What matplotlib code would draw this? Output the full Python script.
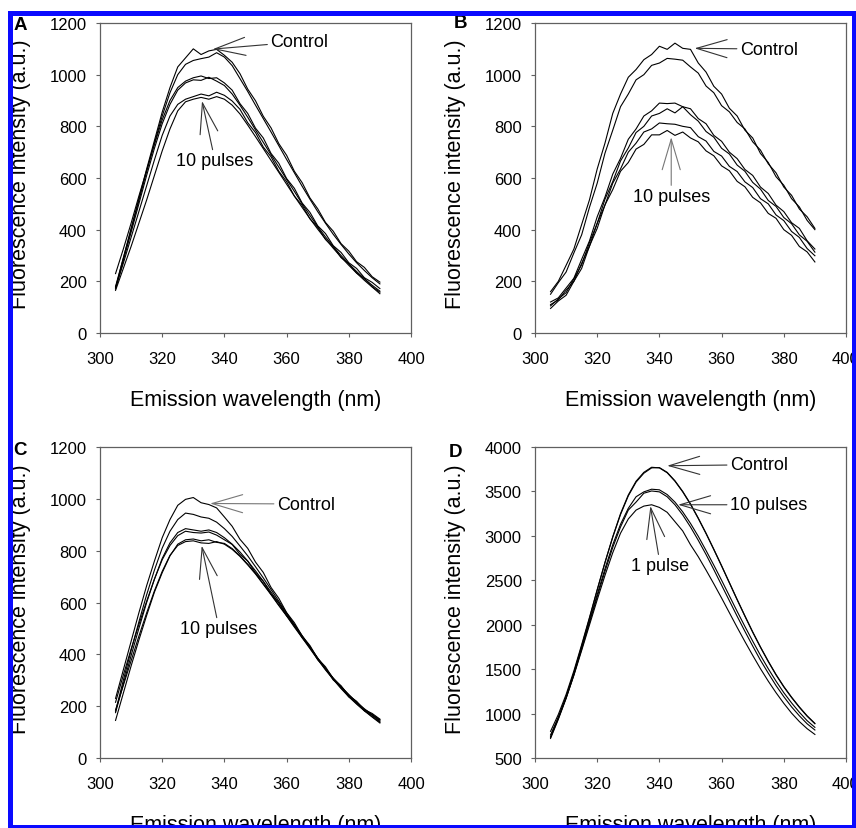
import matplotlib
matplotlib.use('Agg')
import matplotlib.pyplot as plt
from matplotlib.patches import Rectangle

plt.rcParams['font.family'] = ['Liberation Sans', 'DejaVu Sans']

# emission wavelength grid (nm), shared by all spectra
wl = [305, 307.5, 310, 312.5, 315,
      317.5, 320, 322.5, 325, 327.5,
      330, 332.5, 335, 337.5, 340,
      342.5, 345, 347.5, 350, 352.5,
      355, 357.5, 360, 362.5, 365,
      367.5, 370, 372.5, 375, 377.5,
      380, 382.5, 385, 387.5, 390]

# panel A
a_ctrl1 = [175, 290, 405, 520, 635, 745, 855, 950, 1030, 1065,
           1100, 1078, 1092, 1098, 1075, 1048, 1004, 944, 899, 839,
           794, 733, 688, 626, 582, 523, 481, 428, 394, 346,
           317, 276, 254, 218, 197]
a_ctrl2 = [180, 290, 400, 512, 625, 735, 840, 930, 1000, 1040,
           1055, 1062, 1068, 1085, 1068, 1035, 985, 935, 882, 830,
           778, 725, 672, 620, 568, 518, 470, 425, 382, 343,
           306, 272, 242, 214, 190]
a_mid1 = [230, 325, 425, 530, 630, 730, 825, 900, 950, 975,
          988, 995, 985, 988, 968, 940, 888, 850, 793, 755,
          695, 657, 598, 560, 503, 467, 415, 385, 338, 312,
          272, 250, 214, 196, 172]
a_mid2 = [170, 280, 390, 500, 610, 715, 810, 885, 940, 968,
          980, 978, 990, 975, 958, 925, 882, 835, 786, 738,
          690, 642, 595, 548, 500, 455, 412, 372, 335, 300,
          268, 238, 210, 185, 162]
a_low1 = [175, 270, 370, 470, 570, 670, 765, 840, 885, 905,
          915, 925, 918, 932, 920, 898, 866, 814, 776, 720,
          682, 626, 586, 530, 494, 442, 409, 362, 334, 292,
          268, 232, 211, 179, 158]
a_low2 = [165, 250, 335, 425, 515, 610, 705, 790, 860, 895,
          905, 912, 905, 915, 905, 882, 848, 805, 760, 714,
          668, 622, 576, 530, 486, 443, 402, 364, 328, 294,
          262, 232, 204, 178, 152]

# panel B
b_ctrl1 = [160, 200, 262, 325, 420, 515, 635, 735, 850, 925,
           990, 1020, 1058, 1078, 1110, 1098, 1122, 1102, 1098, 1045,
           1010, 955, 925, 870, 840, 785, 755, 695, 660, 605,
           572, 520, 488, 436, 400]
b_ctrl2 = [150, 195, 236, 310, 380, 486, 580, 696, 785, 876,
           925, 980, 1000, 1036, 1045, 1063, 1060, 1056, 1030, 1006,
           956, 930, 880, 856, 815, 790, 740, 708, 655, 620,
           565, 533, 480, 450, 405]
b_t1 = [120, 136, 174, 212, 285, 356, 450, 526, 615, 676,
        750, 790, 840, 860, 890, 888, 890, 876, 868, 830,
        810, 765, 742, 700, 675, 633, 610, 565, 540, 495,
        470, 427, 405, 357, 325]
b_t2 = [105, 132, 156, 210, 264, 350, 424, 518, 586, 666,
        716, 776, 800, 840, 850, 868, 852, 876, 845, 820,
        780, 758, 715, 693, 650, 626, 583, 557, 513, 490,
        447, 423, 380, 355, 313]
b_t3 = [110, 128, 166, 200, 270, 335, 425, 495, 580, 635,
        700, 735, 778, 790, 813, 810, 808, 800, 795, 760,
        743, 703, 685, 645, 625, 585, 563, 520, 500, 457,
        435, 393, 370, 327, 299]
b_t4 = [95, 124, 146, 200, 250, 336, 405, 496, 555, 626,
        660, 712, 730, 767, 767, 784, 765, 778, 755, 740,
        705, 686, 647, 628, 587, 566, 525, 504, 463, 444,
        400, 378, 335, 314, 275]

# panel C
c_ctrl1 = [230, 340, 450, 560, 665, 760, 850, 920, 975, 998,
           1005, 985, 978, 965, 930, 894, 844, 809, 756, 716,
           658, 616, 561, 522, 471, 434, 384, 352, 306, 279,
           241, 219, 186, 172, 150]
c_ctrl2 = [180, 300, 415, 525, 630, 725, 810, 875, 920, 945,
           940, 930, 925, 910, 885, 855, 818, 780, 738, 695,
           650, 605, 560, 515, 472, 428, 386, 345, 308, 275,
           245, 215, 190, 168, 148]
c_mid1 = [175, 285, 395, 500, 600, 690, 770, 830, 870, 885,
          880, 875, 880, 870, 850, 825, 795, 760, 722, 682,
          640, 598, 556, 512, 470, 428, 385, 345, 308, 275,
          243, 215, 188, 165, 145]
c_mid2 = [215, 320, 420, 515, 605, 690, 765, 820, 858, 875,
          870, 868, 872, 860, 842, 824, 786, 760, 714, 682,
          632, 599, 549, 514, 464, 430, 379, 347, 301, 276,
          236, 216, 182, 166, 140]
c_low1 = [145, 250, 355, 455, 550, 640, 715, 780, 825, 842,
          845, 838, 842, 832, 828, 808, 780, 748, 712, 672,
          632, 590, 550, 508, 466, 425, 382, 342, 305, 270,
          238, 210, 183, 160, 138]
c_low2 = [185, 280, 375, 470, 560, 645, 720, 782, 820, 835,
          838, 830, 828, 835, 825, 805, 778, 745, 710, 670,
          630, 588, 548, 505, 464, 422, 380, 340, 303, 268,
          236, 208, 182, 158, 135]

# panel D
d_ctrl1 = [760, 960, 1190, 1460, 1760, 2070, 2390, 2700, 2990, 3250,
           3460, 3615, 3715, 3772, 3765, 3710, 3615, 3495, 3355, 3195,
           3025, 2845, 2660, 2470, 2280, 2095, 1915, 1745, 1585, 1435,
           1300, 1180, 1070, 970, 885]
d_ctrl2 = [800, 990, 1215, 1480, 1775, 2080, 2395, 2700, 2985, 3240,
           3450, 3605, 3705, 3765, 3768, 3715, 3620, 3500, 3360, 3200,
           3030, 2850, 2665, 2475, 2285, 2100, 1920, 1750, 1590, 1440,
           1305, 1185, 1075, 975, 890]
d_p10a = [740, 950, 1180, 1445, 1740, 2040, 2340, 2630, 2900, 3130,
          3310, 3440, 3495, 3525, 3518, 3465, 3380, 3270, 3140, 2995,
          2835, 2670, 2500, 2325, 2150, 1980, 1815, 1655, 1505, 1365,
          1235, 1120, 1015, 920, 845]
d_p10b = [720, 935, 1170, 1435, 1725, 2020, 2315, 2600, 2870, 3100,
          3290, 3380, 3480, 3505, 3495, 3440, 3350, 3235, 3100, 2950,
          2790, 2620, 2445, 2270, 2095, 1925, 1760, 1600, 1455, 1315,
          1190, 1075, 975, 885, 815]
d_p1 = [730, 945, 1175, 1430, 1710, 1995, 2280, 2555, 2810, 3030,
        3190, 3290, 3335, 3350, 3320, 3265, 3160, 3055, 2900, 2765,
        2615, 2460, 2300, 2135, 1970, 1810, 1655, 1505, 1365, 1235,
        1115, 1005, 910, 830, 765]

xticks = [300, 320, 340, 360, 380, 400]
yticks_abc = [0, 200, 400, 600, 800, 1000, 1200]
yticks_d = [500, 1000, 1500, 2000, 2500, 3000, 3500, 4000]

W, H = 856, 829
fig = plt.figure(figsize=(W / 100, H / 100), dpi=100)
fig.patch.set_facecolor('white')

ARROW = '->,head_length=2.2,head_width=0.65'


def panel(box, curves, yticks, letter, letter_xy, notes):
    x0, y0, x1, y1 = box
    ax = fig.add_axes([x0 / W, 1 - y1 / H, (x1 - x0) / W, (y1 - y0) / H])
    for c in curves:
        ax.plot(wl, c, color='black', lw=0.8)
    ax.set_xlim(300, 400)
    ax.set_ylim(yticks[0], yticks[-1])
    ax.set_xticks(xticks)
    ax.set_yticks(yticks)
    for s in ax.spines.values():
        s.set_color('#606060')
        s.set_linewidth(0.9)
    ax.tick_params(direction='out', length=3, width=0.8, color='#606060',
                   labelsize=12)
    ax.tick_params(axis='x', pad=10)
    ax.tick_params(axis='y', pad=6.5)
    ax.set_xlabel('Emission wavelength (nm)', fontsize=15.5)
    ax.set_ylabel('Fluorescence intensity (a.u.)', fontsize=15.5)
    ax.xaxis.set_label_coords(0.5, -0.18)
    ax.yaxis.set_label_coords(-0.222, 0.515)
    for txt, txy, tip, ha, col in notes:
        ax.annotate(txt, xy=tip, xytext=txy, ha=ha, va='center', fontsize=13,
                    arrowprops=dict(arrowstyle=ARROW, mutation_scale=10,
                                    lw=0.8, color=col, shrinkA=0, shrinkB=0))
    fig.text(letter_xy[0] / W, 1 - letter_xy[1] / H, letter, fontsize=13.5,
             fontweight='bold', ha='left', va='baseline')
    return ax


panel((100, 24, 411, 334), [a_ctrl1, a_ctrl2, a_mid1, a_mid2, a_low1, a_low2],
      yticks_abc, 'A', (14, 29.5),
      [('Control', (354.7, 1127), (336.3, 1099), 'left', '#333333'),
       ('10 pulses', (337.0, 666), (332.8, 898), 'center', '#333333')])

panel((535, 24, 846, 334), [b_ctrl1, b_ctrl2, b_t1, b_t2, b_t3, b_t4],
      yticks_abc, 'B', (454, 28.5),
      [('Control', (365.8, 1099), (351.3, 1102), 'left', '#333333'),
       ('10 pulses', (343.8, 528), (343.8, 758), 'center', '#777777')])

panel((100, 448, 411, 759), [c_ctrl1, c_ctrl2, c_mid1, c_mid2, c_low1, c_low2],
      yticks_abc, 'C', (13, 455),
      [('Control', (356.8, 980), (335.4, 982), 'left', '#777777'),
       ('10 pulses', (338.3, 498), (332.7, 819), 'center', '#333333')])

panel((535, 448, 846, 759), [d_ctrl1, d_ctrl2, d_p10a, d_p10b, d_p1],
      yticks_d, 'D', (449, 457.5),
      [('Control', (362.6, 3801), (342.5, 3789), 'left', '#333333'),
       ('10 pulses', (362.6, 3350), (346.0, 3350), 'left', '#333333'),
       ('1 pulse', (340.3, 2664), (337.1, 3336), 'center', '#333333')])

# blue frame around the figure
blue = '#0a0aff'
for x, y, w, h in [(8, 12, 848, 5), (8, 12, 5, 817), (852, 12, 4, 817), (8, 826, 848, 3)]:
    fig.add_artist(Rectangle((x / W, 1 - (y + h) / H), w / W, h / H,
                             transform=fig.transFigure, color=blue, lw=0, zorder=20))

fig.savefig('out.png', dpi=100)
